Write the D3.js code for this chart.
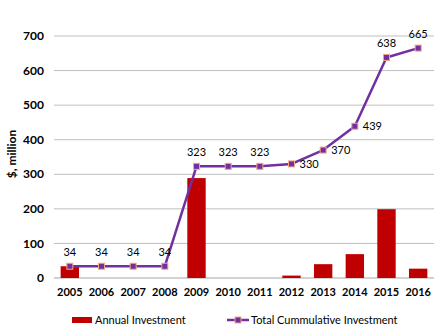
<!DOCTYPE html>
<html>
<head>
<meta charset="utf-8">
<script src="https://cdn.jsdelivr.net/npm/d3@7"></script>
<style>
  body { margin: 0; background: #fff; }
  text { font-family: Lato, "Open Sans", sans-serif; }
</style>
</head>
<body>
<script>
// chart values
const years = ['2005', '2006', '2007', '2008', '2009', '2010', '2011', '2012', '2013', '2014', '2015', '2016'];
const annual = [34, 0, 0, 0, 289, 0, 0, 7, 40, 69, 199, 27];
const cumulative = [34, 34, 34, 34, 323, 323, 323, 330, 370, 439, 638, 665];
const yTicks = [0, 100, 200, 300, 400, 500, 600, 700];
// where each data label goes relative to its point
const labelPos = ['top', 'top', 'top', 'top', 'top', 'top', 'top', 'right', 'right', 'right', 'top', 'top'];

const width = 440;
const height = 335;
const margin = { left: 54, right: 6, top: 36, bottom: 57 };

const svg = d3.select('body')
  .append('svg')
  .attr('width', width)
  .attr('height', height);

const x = d3.scaleBand()
  .domain(years)
  .range([margin.left, width - margin.right])
  .paddingInner(0.42)
  .paddingOuter(0.21);

const y = d3.scaleLinear()
  .domain([0, 700])
  .range([height - margin.bottom, margin.top]);

// gridlines
svg.selectAll('.grid')
  .data(yTicks)
  .enter()
  .append('line')
  .attr('x1', margin.left)
  .attr('x2', width - margin.right)
  .attr('y1', (d) => y(d))
  .attr('y2', (d) => y(d))
  .style('stroke', (d) => (d === 0 ? '#a6a6a6' : '#bfbfbf'))
  .style('stroke-width', '1px');

// y tick labels
svg.selectAll('.ytick')
  .data(yTicks)
  .enter()
  .append('text')
  .attr('x', 44)
  .attr('y', (d) => y(d))
  .attr('dy', '0.35em')
  .attr('text-anchor', 'end')
  .style('font-size', '12px')
  .style('font-weight', 'bold')
  .text((d) => d);

// y axis title
svg.append('text')
  .attr('transform', 'translate(16,154) rotate(-90)')
  .attr('text-anchor', 'middle')
  .style('font-size', '12px')
  .style('font-weight', 'bold')
  .text('$, million');

// x tick labels
svg.selectAll('.xtick')
  .data(years)
  .enter()
  .append('text')
  .attr('x', (d) => x(d) + x.bandwidth() / 2)
  .attr('y', 292)
  .attr('dy', '0.35em')
  .attr('text-anchor', 'middle')
  .style('font-size', '11px')
  .style('font-weight', 'bold')
  .text((d) => d);

// bars
svg.selectAll('.bar')
  .data(annual)
  .enter()
  .append('rect')
  .attr('x', (d, i) => x(years[i]))
  .attr('y', (d) => y(d))
  .attr('width', x.bandwidth())
  .attr('height', (d) => y(0) - y(d))
  .style('fill', '#c00000');

// cumulative line
const line = d3.line()
  .x((d, i) => x(years[i]) + x.bandwidth() / 2)
  .y((d) => y(d));

svg.append('path')
  .datum(cumulative)
  .attr('d', line)
  .style('fill', 'none')
  .style('stroke', '#7030a0')
  .style('stroke-width', '2.5px')
  .style('stroke-linejoin', 'round');

// markers
svg.selectAll('.marker')
  .data(cumulative)
  .enter()
  .append('rect')
  .attr('x', (d, i) => x(years[i]) + x.bandwidth() / 2 - 3)
  .attr('y', (d) => y(d) - 3)
  .attr('width', 6)
  .attr('height', 6)
  .style('fill', '#7030a0')
  .style('stroke', '#f4a582')
  .style('stroke-width', '1px');

// data labels
svg.selectAll('.label')
  .data(cumulative)
  .enter()
  .append('text')
  .attr('x', (d, i) => {
    const cx = x(years[i]) + x.bandwidth() / 2;
    return labelPos[i] === 'right' ? cx + 8 : cx;
  })
  .attr('y', (d, i) => (labelPos[i] === 'right' ? y(d) : y(d) - 14))
  .attr('dy', '0.35em')
  .attr('text-anchor', (d, i) => (labelPos[i] === 'right' ? 'start' : 'middle'))
  .style('font-size', '11px')
  .text((d) => d);

// legend
const legend = svg.append('g');

legend.append('rect')
  .attr('x', 72)
  .attr('y', 317)
  .attr('width', 20)
  .attr('height', 6)
  .style('fill', '#c00000');

legend.append('text')
  .attr('x', 95)
  .attr('y', 320)
  .attr('dy', '0.35em')
  .style('font-size', '11px')
  .text('Annual Investment');

legend.append('line')
  .attr('x1', 227)
  .attr('x2', 249)
  .attr('y1', 320)
  .attr('y2', 320)
  .style('stroke', '#7030a0')
  .style('stroke-width', '2.5px');

legend.append('rect')
  .attr('x', 235)
  .attr('y', 317)
  .attr('width', 6)
  .attr('height', 6)
  .style('fill', '#7030a0')
  .style('stroke', '#f4a582')
  .style('stroke-width', '1px');

legend.append('text')
  .attr('x', 251)
  .attr('y', 320)
  .attr('dy', '0.35em')
  .style('font-size', '11px')
  .text('Total Cummulative Investment');
</script>
</body>
</html>
